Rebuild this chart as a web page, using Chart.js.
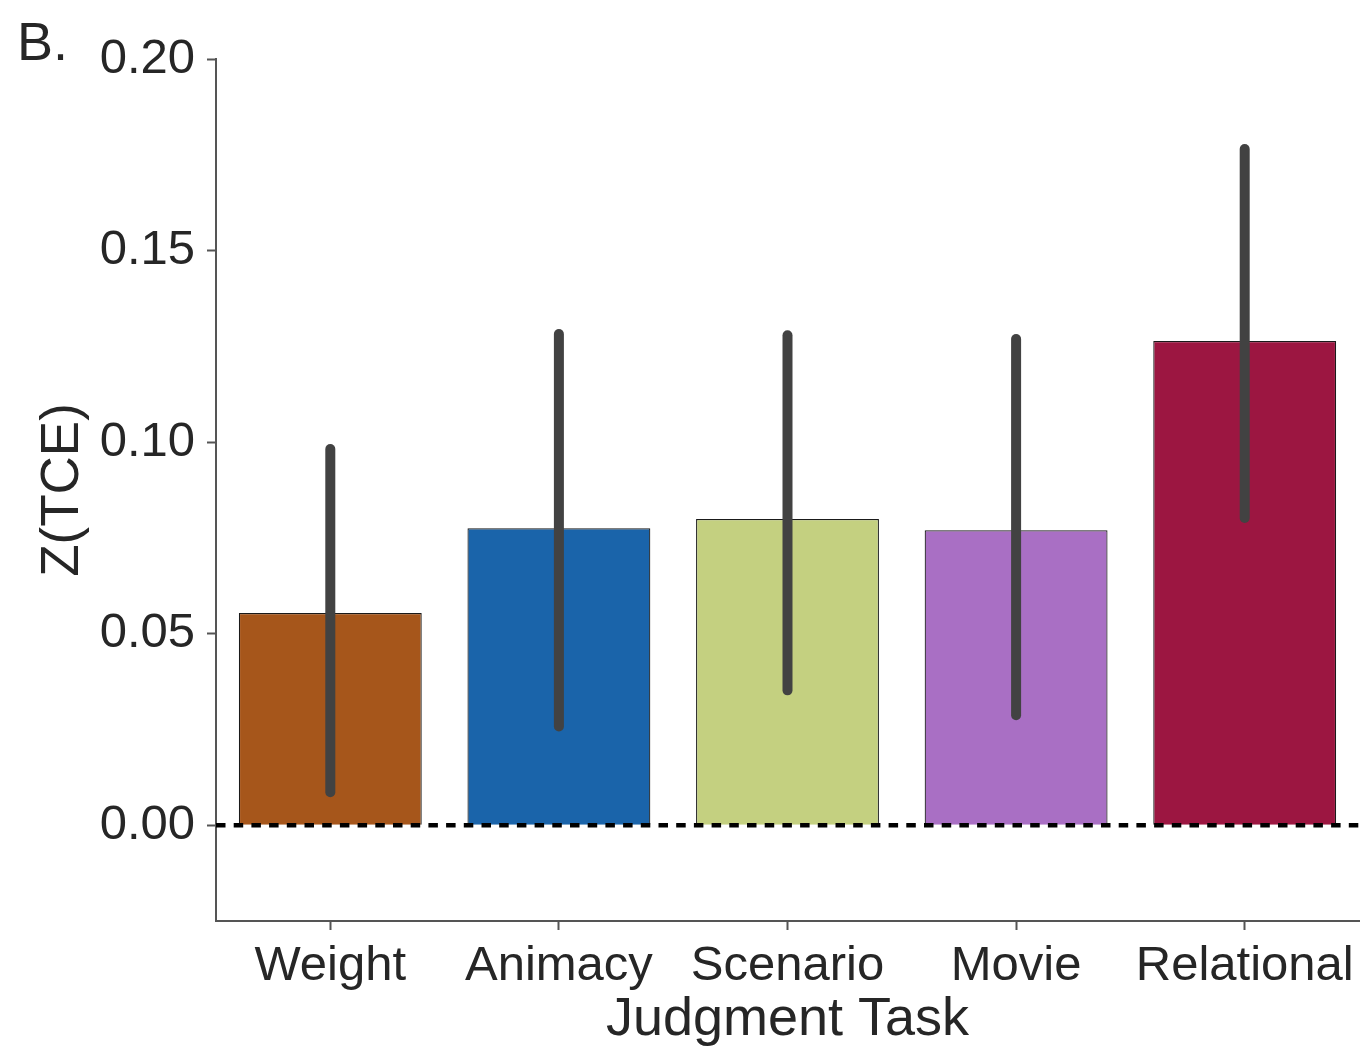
<!DOCTYPE html>
<html>
<head>
<meta charset="utf-8">
<script src="https://cdn.jsdelivr.net/npm/chart.js@4/dist/chart.umd.min.js"></script>
<style>
  html, body { margin: 0; padding: 0; background: #ffffff; }
  #wrap { position: relative; width: 1361px; height: 1046px; }
  canvas { display: block; }
</style>
</head>
<body>
<div id="wrap"><canvas id="chart" width="1361" height="1046"></canvas></div>
<script>
// Mean Z(TCE) per judgment task with 95% confidence intervals
const tasks = ['Weight', 'Animacy', 'Scenario', 'Movie', 'Relational'];
const meanZ = [0.0554, 0.0775, 0.0799, 0.0770, 0.1264];
const ciLow = [0.0086, 0.0258, 0.0352, 0.0287, 0.0802];
const ciHigh = [0.0982, 0.1282, 0.1279, 0.1269, 0.1765];
const barColors = ['#a6561b', '#1a64aa', '#c4d080', '#a96fc4', '#9c1641'];
const yTickValues = [0.00, 0.05, 0.10, 0.15, 0.20];

const FONT = '"Liberation Sans", Arial, Helvetica, sans-serif';
const INK = '#262626';
const SPINE = '#555555';

// Confidence-interval whiskers, the dotted zero reference and the panel letter
const overlays = {
  id: 'overlays',
  afterDatasetsDraw(chart) {
    const ctx = chart.ctx;
    const x = chart.scales.x;
    const y = chart.scales.y;
    const area = chart.chartArea;

    // zero reference line
    ctx.save();
    ctx.strokeStyle = '#000000';
    ctx.lineWidth = 4.5;
    ctx.setLineDash([9.5, 8.2]);
    const y0 = y.getPixelForValue(0);
    ctx.beginPath();
    ctx.moveTo(area.left, y0);
    ctx.lineTo(area.right + 1, y0);
    ctx.stroke();
    ctx.restore();

    // error bars
    ctx.save();
    ctx.strokeStyle = '#424242';
    ctx.lineWidth = 10;
    ctx.lineCap = 'round';
    tasks.forEach((t, i) => {
      const px = x.getPixelForValue(i);
      ctx.beginPath();
      ctx.moveTo(px, y.getPixelForValue(ciLow[i]));
      ctx.lineTo(px, y.getPixelForValue(ciHigh[i]));
      ctx.stroke();
    });
    ctx.restore();
  },
  afterDraw(chart) {
    const ctx = chart.ctx;
    ctx.save();
    ctx.fillStyle = INK;
    ctx.font = '54px ' + FONT;
    ctx.textBaseline = 'alphabetic';
    ctx.textAlign = 'left';
    ctx.fillText('B.', 17, 60);
    ctx.restore();
  }
};

new Chart(document.getElementById('chart'), {
  type: 'bar',
  data: {
    labels: tasks,
    datasets: [{
      data: meanZ,
      backgroundColor: barColors,
      borderColor: '#1a1a1a',
      borderWidth: 1.2,
      barPercentage: 0.8,
      categoryPercentage: 1.0
    }]
  },
  options: {
    responsive: false,
    animation: false,
    devicePixelRatio: 1,
    layout: { padding: { top: 59, right: 2, left: 0, bottom: 0 } },
    plugins: {
      legend: { display: false },
      tooltip: { enabled: false }
    },
    scales: {
      x: {
        offset: true,
        grid: {
          offset: false,
          drawOnChartArea: false,
          drawTicks: true,
          tickLength: 9,
          tickWidth: 2,
          tickColor: SPINE
        },
        border: { display: true, color: SPINE, width: 2 },
        ticks: {
          color: INK,
          font: { family: FONT, size: 49 },
          padding: 7,
          maxRotation: 0,
          autoSkip: false
        },
        title: {
          display: true,
          text: 'Judgment Task',
          color: INK,
          font: { family: FONT, size: 54, lineHeight: 1.1 },
          padding: { top: 0, bottom: -4 }
        },
        afterFit(scale) { scale.height = 125; }
      },
      y: {
        min: -0.025,
        max: 0.20,
        afterBuildTicks(scale) {
          scale.ticks = yTickValues.map(v => ({ value: v }));
        },
        grid: {
          drawOnChartArea: false,
          drawTicks: true,
          tickLength: 9,
          tickWidth: 2,
          tickColor: SPINE
        },
        border: { display: true, color: SPINE, width: 2 },
        ticks: {
          color: INK,
          font: { family: FONT, size: 49 },
          padding: 12,
          callback: v => Number(v).toFixed(2)
        },
        title: {
          display: true,
          text: 'Z(TCE)',
          color: INK,
          font: { family: FONT, size: 53, lineHeight: 1.1 },
          padding: { top: 34, bottom: 0 }
        },
        afterFit(scale) { scale.width = 216; }
      }
    }
  },
  plugins: [overlays]
});
</script>
</body>
</html>
